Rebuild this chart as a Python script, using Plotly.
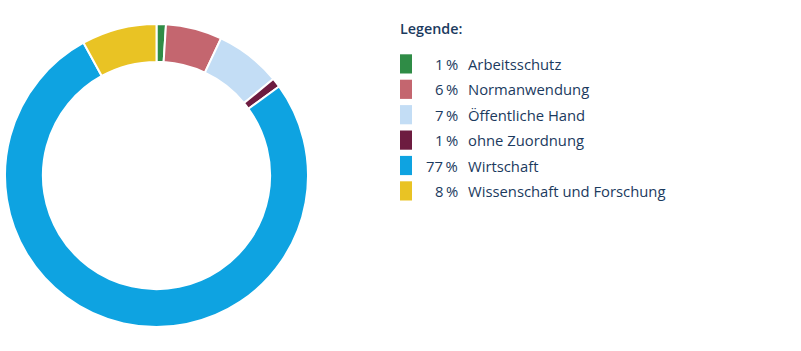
import plotly.graph_objects as go

categories = ["Arbeitsschutz", "Normanwendung", "Öffentliche Hand",
              "ohne Zuordnung", "Wirtschaft", "Wissenschaft und Forschung"]
shares = [1, 6, 7, 1, 77, 8]
colors = ["#2f8c46", "#c4666f", "#c3ddf5", "#6d1c40", "#0ea3e1", "#e9c324"]
legend_title = "Legende:"

W, H = 801, 351
TEXT = "#1b3a5e"
FONT = "Open Sans"

fig = go.Figure()
fig.add_trace(go.Pie(
    labels=categories, values=shares, sort=False, direction="clockwise",
    rotation=0, hole=0.75, textinfo="none", hoverinfo="label+percent",
    marker=dict(colors=colors, line=dict(color="white", width=2)),
    domain=dict(x=[5 / W, 308 / W], y=[1 - 327 / H, 1 - 24 / H]),
    showlegend=False,
))

def px(x):
    return x / W

def py(y):
    return 1 - y / H

annotations = [dict(text=legend_title, x=px(398), y=py(29), xref="paper", yref="paper",
                    xanchor="left", yanchor="middle", showarrow=False,
                    font=dict(family=FONT, size=14.3, color=TEXT, weight=600))]
shapes = []
row0, pitch = 64, 25.4
for i, (cat, val, col) in enumerate(zip(categories, shares, colors)):
    yc = row0 + i * pitch
    shapes.append(dict(type="rect", xref="paper", yref="paper",
                       x0=px(400), x1=px(412), y0=py(yc - 9.7), y1=py(yc + 9.5),
                       fillcolor=col, line=dict(width=0)))
    annotations.append(dict(text=f"{val}\u2009%", x=px(460), y=py(yc), xref="paper", yref="paper",
                            xanchor="right", yanchor="middle", showarrow=False,
                            font=dict(family=FONT, size=14.8, color=TEXT)))
    annotations.append(dict(text=cat, x=px(466), y=py(yc), xref="paper", yref="paper",
                            xanchor="left", yanchor="middle", showarrow=False,
                            font=dict(family=FONT, size=14.8, color=TEXT)))

fig.update_layout(width=W, height=H, margin=dict(l=0, r=0, t=0, b=0),
                  paper_bgcolor="white", plot_bgcolor="white",
                  annotations=annotations, shapes=shapes)
fig.write_html("out.html")
